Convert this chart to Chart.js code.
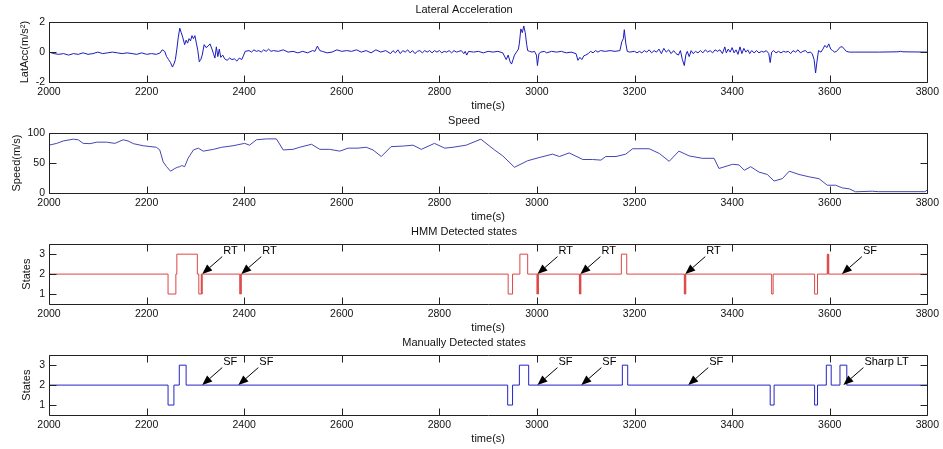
<!DOCTYPE html>
<html>
<head>
<meta charset="utf-8">
<script src="https://cdn.jsdelivr.net/npm/chart.js@4.4.0/dist/chart.umd.min.js"></script>
<style>
  body { margin: 0; background: #fff; }
  #wrap { position: relative; width: 943px; height: 449px; }
  #wrap canvas { position: absolute; left: 0; }
</style>
</head>
<body>
<div id="wrap">
  <canvas id="c0" width="943" height="113" style="top:0px"></canvas>
  <canvas id="c1" width="943" height="113" style="top:111px"></canvas>
  <canvas id="c2" width="943" height="113" style="top:222px"></canvas>
  <canvas id="c3" width="943" height="113" style="top:333px"></canvas>
</div>

<script>
  // tick labels
  const xTicks = [2000, 2200, 2400, 2600, 2800, 3000, 3200, 3400, 3600, 3800];
  const accTicks = [-2, 0, 2];
  const speedTicks = [0, 50, 100];
  const stateTicks = [1, 2, 3];

  // lateral acceleration (m/s^2)
  const accTime = [2000,2005,2010,2020,2030,2040,2050,2060,2070,2080,2090,2100,2110,2120,2130,2140,2150,2160,2170,2180,2190,2200,2210,2220,2228,2232,2237,2241,2245,2249,2253,2256,2259,2262,2265,2268,2271,2274,2278,2281,2284,2287,2290,2293,2296,2299,2302,2305,2308,2311,2314,2318,2322,2326,2330,2334,2337,2340,2343,2346,2349,2352,2356,2360,2365,2370,2375,2380,2385,2390,2395,2399,2402,2410,2415,2420,2425,2430,2435,2440,2445,2450,2455,2460,2470,2480,2490,2500,2510,2520,2530,2540,2545,2550,2555,2560,2570,2580,2590,2600,2610,2620,2630,2640,2650,2660,2670,2680,2690,2700,2705,2710,2715,2720,2725,2730,2735,2740,2745,2750,2755,2760,2765,2770,2775,2780,2785,2790,2795,2800,2805,2810,2815,2820,2825,2830,2835,2840,2845,2850,2853,2856,2860,2870,2880,2890,2900,2910,2920,2930,2937,2941,2945,2948,2951,2954,2958,2962,2964,2967,2970,2973,2976,2979,2981,2985,2990,2995,2999,3001,3004,3008,3015,3020,3030,3040,3050,3060,3070,3080,3084,3088,3092,3096,3100,3105,3110,3115,3120,3125,3130,3140,3150,3160,3170,3174,3177,3179,3182,3185,3190,3200,3205,3210,3215,3220,3225,3230,3235,3240,3245,3250,3255,3260,3265,3270,3275,3280,3285,3290,3294,3298,3302,3305,3308,3312,3316,3320,3325,3330,3335,3340,3345,3350,3355,3360,3365,3370,3375,3380,3385,3388,3392,3396,3400,3404,3408,3412,3416,3420,3424,3428,3432,3436,3440,3445,3450,3455,3460,3465,3470,3475,3478,3481,3485,3490,3495,3500,3505,3510,3515,3520,3525,3530,3535,3540,3545,3550,3555,3560,3564,3568,3571,3574,3577,3582,3586,3590,3594,3598,3602,3606,3610,3614,3618,3622,3626,3630,3634,3640,3650,3700,3740,3745,3750,3800];
  const accValue = [0.0,-0.05,-0.1,-0.15,-0.1,-0.2,-0.1,-0.15,-0.05,-0.15,-0.1,0.0,-0.1,-0.05,0.0,-0.05,-0.1,-0.05,-0.1,-0.15,-0.05,-0.15,-0.1,-0.15,-0.05,0.15,0.05,-0.3,-0.5,-0.7,-1.0,-0.8,-0.5,0.2,1.0,1.6,1.3,1.0,0.5,0.8,0.6,0.9,0.75,1.1,0.9,1.1,0.6,0.1,-0.65,-0.5,-0.2,0.5,0.3,0.4,0.55,0.2,-0.1,-0.4,0.35,-0.3,0.2,-0.35,-0.2,-0.45,-0.55,-0.4,-0.5,-0.45,-0.6,-0.4,-0.5,-0.2,0.05,0.1,0.0,0.15,0.05,0.1,0.0,0.15,0.05,0.2,0.05,0.1,0.05,0.15,0.0,0.05,-0.05,0.05,-0.05,0.1,0.05,0.4,0.1,0.05,-0.05,0.0,0.15,0.05,0.1,0.05,0.15,0.0,0.1,-0.05,0.15,0.0,0.1,-0.1,0.1,-0.05,0.15,-0.1,0.1,0.0,0.15,-0.05,0.1,-0.1,0.05,0.1,-0.05,0.1,0.0,0.1,-0.05,0.1,0.0,0.1,-0.05,0.05,0.0,0.1,-0.05,0.1,0.0,0.05,0.1,-0.1,0.05,-0.2,0.05,0.0,0.05,-0.05,0.05,0.0,0.05,-0.05,-0.5,-0.2,-0.65,-0.8,-0.5,-0.2,0.0,0.2,0.6,1.55,1.3,1.75,1.3,0.5,0.1,0.05,0.0,0.05,-0.2,-0.9,-0.1,0.0,0.05,-0.05,0.05,0.0,0.05,-0.05,0.0,-0.1,-0.55,-0.35,-0.5,-0.25,-0.2,-0.1,0.05,-0.05,0.1,0.0,0.1,0.05,0.1,0.05,0.1,0.7,0.9,1.5,0.6,0.05,0.0,0.05,-0.05,0.05,-0.05,0.1,0.0,0.15,-0.05,0.1,0.0,0.2,-0.1,0.25,0.0,0.15,-0.1,0.1,-0.1,-0.2,0.1,-0.5,-0.9,-0.2,0.05,-0.3,0.1,-0.1,0.05,-0.05,0.1,-0.05,0.15,0.0,0.1,-0.05,0.15,0.05,0.15,-0.1,0.35,-0.05,0.2,0.0,0.3,-0.05,0.15,-0.15,0.35,-0.1,0.25,0.0,0.15,-0.1,0.1,-0.05,0.1,-0.05,0.05,0.0,0.1,-0.1,-0.7,0.0,0.1,-0.05,0.05,-0.05,0.05,0.0,0.05,-0.1,0.1,0.0,0.15,-0.05,0.05,0.1,-0.05,0.0,-0.1,-0.5,-1.4,-0.6,0.1,0.0,0.2,0.45,0.3,0.55,0.2,0.1,0.0,0.05,0.2,0.35,0.35,0.2,0.05,0.0,0.0,0.0,0.02,0.05,0.02,0.0];

  // speed
  const speedTime = [2000,2016,2029,2050,2060,2070,2084,2098,2118,2135,2152,2162,2173,2193,2220,2227,2234,2241,2249,2258,2263,2268,2272,2278,2285,2296,2306,2316,2337,2354,2377,2401,2411,2425,2446,2466,2480,2500,2514,2538,2555,2575,2596,2613,2633,2650,2664,2681,2701,2726,2746,2763,2790,2811,2828,2855,2885,2913,2930,2954,2981,3008,3032,3046,3066,3094,3114,3131,3141,3162,3182,3196,3230,3251,3271,3291,3312,3339,3363,3373,3401,3414,3425,3438,3455,3472,3486,3503,3517,3537,3558,3578,3595,3612,3626,3640,3653,3687,3700,3795,3800];
  const speedValue = [80,83,87,90,89,83,82.5,85,85,83,89,87,82.5,79,76.5,72,52,44,36.5,41,43,44,46,44,58,72,75,70,73,76.5,79,83,80,89,90.5,90.5,72,73,76.5,81.5,73,73,70,75,75,76.5,72,61,77.5,78.5,80,73,83,75,76.5,80,90,72,62,43,54,60,65,61,67,56,56,55,61,61,65,74,74,66,53,70,62,58,58,41,48,47,38,44,35,31,20,24,36.5,31,27,24,13,13,8.5,7,2,3,2.2,2.2,5];

  // HMM detected states (change points)
  const hmmTime = [2000,2244,2260,2262,2304,2307,2312,2313,2314,2391,2392,2393,2394,2941,2950,2965,2981,3000,3001,3002,3003,3087,3088,3089,3090,3173,3184,3302,3303,3304,3305,3481,3484,3569,3575,3595,3596,3597,3598,3800];
  const hmmState = [2,1,2,3,2,1,2,1,2,1,2,1,2,1,2,3,2,1,2,1,2,1,2,1,2,3,2,1,2,1,2,1,2,1,2,3,2,3,2,2];

  // manually detected states (change points)
  const manTime = [2000,2244,2256,2267,2281,2940,2950,2964,2983,3175,3186,3478,3486,3569,3575,3593,3603,3621,3635,3800];
  const manState = [2,1,2,3,2,1,2,3,2,3,2,1,2,1,2,3,2,3,2,2];

  // arrow annotations
  const hmmNoteTime = [2314, 2394, 3001, 3089, 3304, 3625];
  const hmmNoteText = ['RT', 'RT', 'RT', 'RT', 'RT', 'SF'];
  const manNoteTime = [2314, 2388, 3001, 3091, 3310, 3628];
  const manNoteText = ['SF', 'SF', 'SF', 'SF', 'SF', 'Sharp LT'];

  Chart.defaults.font.family = 'Arial, "Liberation Sans", sans-serif';
  Chart.defaults.color = '#111';

  const pts = (xs, ys) => xs.map((x, i) => ({x: x, y: ys[i]}));
  const plain = v => String(v);

  // matlab-like box with inward ticks on all four sides
  const boxPlugin = {
    id: 'box',
    afterDatasetsDraw(chart) {
      const {ctx, chartArea: a, scales: {x, y}} = chart;
      const L = Math.round(a.left) + 0.5, R = Math.round(a.right) + 0.5;
      const T = Math.round(a.top) + 0.5, B = Math.round(a.bottom) + 0.5;
      ctx.save();
      ctx.strokeStyle = '#222';
      ctx.lineWidth = 1;
      ctx.beginPath();
      ctx.rect(L, T, R - L, B - T);
      x.ticks.forEach(t => {
        const px = Math.round(x.getPixelForValue(t.value)) + 0.5;
        ctx.moveTo(px, B); ctx.lineTo(px, B - 7);
        ctx.moveTo(px, T); ctx.lineTo(px, T + 7);
      });
      y.ticks.forEach(t => {
        const py = Math.round(y.getPixelForValue(t.value)) + 0.5;
        ctx.moveTo(L, py); ctx.lineTo(L + 7, py);
        ctx.moveTo(R, py); ctx.lineTo(R - 7, py);
      });
      ctx.stroke();
      ctx.restore();
    }
  };

  const arrowPlugin = {
    id: 'arrows',
    afterDraw(chart, args, opts) {
      if (!opts.times) return;
      const {ctx, scales: {x, y}} = chart;
      ctx.save();
      ctx.strokeStyle = '#000';
      ctx.fillStyle = '#000';
      ctx.lineWidth = 1;
      ctx.font = '11px Arial, "Liberation Sans", sans-serif';
      ctx.textBaseline = 'middle';
      opts.times.forEach((t, i) => {
        const tx = x.getPixelForValue(t), ty = y.getPixelForValue(2);
        const sx = tx + 20, sy = ty - 17.5;
        const ang = Math.atan2(ty - sy, tx - sx);
        const hl = 10, hw = 4;
        const bx = tx - hl * Math.cos(ang), by = ty - hl * Math.sin(ang);
        ctx.beginPath();
        ctx.moveTo(sx, sy); ctx.lineTo(bx, by);
        ctx.stroke();
        ctx.beginPath();
        ctx.moveTo(tx, ty);
        ctx.lineTo(bx + hw * Math.sin(ang), by - hw * Math.cos(ang));
        ctx.lineTo(bx - hw * Math.sin(ang), by + hw * Math.cos(ang));
        ctx.closePath();
        ctx.fill();
        ctx.fillText(opts.labels[i], sx + 1, sy - 6);
      });
      ctx.restore();
    }
  };

  function makePanel(id, cfg) {
    return new Chart(document.getElementById(id), {
      type: 'line',
      data: {
        datasets: [{
          data: cfg.data,
          borderColor: cfg.color,
          borderWidth: 1,
          pointRadius: 0,
          tension: 0,
          stepped: cfg.stepped || false,
          fill: false
        }]
      },
      options: {
        responsive: false,
        animation: false,
        events: [],
        layout: { padding: { left: 0, right: 15, top: 0, bottom: 0 } },
        plugins: {
          legend: { display: false },
          tooltip: { enabled: false },
          title: {
            display: true,
            text: cfg.title,
            font: { size: 11, weight: 'normal' },
            color: '#111',
            padding: { top: 3, bottom: 6 }
          },
          arrows: { times: cfg.noteTimes, labels: cfg.noteText }
        },
        scales: {
          x: {
            type: 'linear',
            min: 2000, max: 3800,
            grid: { display: false, drawTicks: false },
            border: { display: false },
            ticks: { font: { size: 10.5 }, padding: 4, maxRotation: 0, color: '#111', callback: plain },
            afterBuildTicks: s => { s.ticks = xTicks.map(v => ({value: v})); },
            afterFit: s => { s.height = 31; },
            title: { display: true, text: 'time(s)', font: { size: 11 }, color: '#111', padding: 0 }
          },
          y: {
            min: cfg.min, max: cfg.max,
            grid: { display: false, drawTicks: false },
            border: { display: false },
            ticks: { font: { size: 10.5 }, padding: 4, color: '#111', callback: plain },
            afterBuildTicks: s => { s.ticks = cfg.yTicks.map(v => ({value: v})); },
            afterFit: s => { s.width = 49; },
            title: { display: true, text: cfg.yTitle, font: { size: 11 }, color: '#111', padding: { top: cfg.yTitlePad, bottom: 0 } }
          }
        }
      },
      plugins: [boxPlugin, arrowPlugin]
    });
  }

  makePanel('c0', {
    title: 'Lateral Acceleration', yTitle: 'LatAcc(m/s²)', yTitlePad: 18,
    data: pts(accTime, accValue), color: '#1c1cbe', min: -2, max: 2, yTicks: accTicks
  });
  makePanel('c1', {
    title: 'Speed', yTitle: 'Speed(m/s)', yTitlePad: 10,
    data: pts(speedTime, speedValue), color: '#4646b4', min: 0, max: 100, yTicks: speedTicks
  });
  makePanel('c2', {
    title: 'HMM Detected states', yTitle: 'States', yTitlePad: 20,
    data: pts(hmmTime, hmmState), color: '#dc4646', stepped: 'before', min: 0.5, max: 3.5, yTicks: stateTicks,
    noteTimes: hmmNoteTime, noteText: hmmNoteText
  });
  makePanel('c3', {
    title: 'Manually Detected states', yTitle: 'States', yTitlePad: 20,
    data: pts(manTime, manState), color: '#2424c8', stepped: 'before', min: 0.5, max: 3.5, yTicks: stateTicks,
    noteTimes: manNoteTime, noteText: manNoteText
  });
</script>
</body>
</html>
